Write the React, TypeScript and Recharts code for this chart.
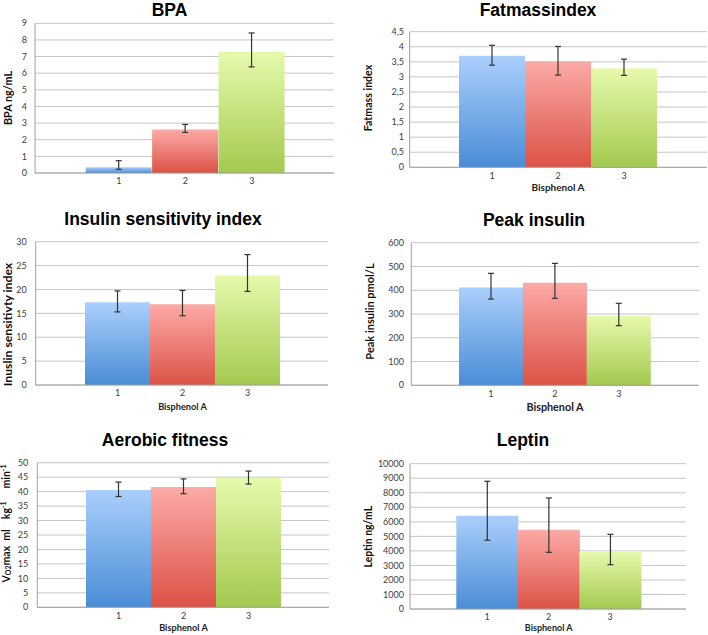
import React from 'react';
import { BarChart, Bar, XAxis, YAxis, CartesianGrid, Cell, ErrorBar } from 'recharts';

// ---------- data ----------
const categories = ['1', '2', '3'];

const bpaMean = [0.35, 2.62, 7.28];
const bpaLow = [0.22, 2.44, 6.38];
const bpaHigh = [0.74, 2.92, 8.42];
const bpaTicks = [0, 1, 2, 3, 4, 5, 6, 7, 8, 9];

const fatMean = [3.7, 3.51, 3.29];
const fatLow = [3.39, 3.06, 3.05];
const fatHigh = [4.05, 4.01, 3.59];
const fatTicks = [0, 0.5, 1, 1.5, 2, 2.5, 3, 3.5, 4, 4.5];

const isiMean = [17.3, 16.9, 22.95];
const isiLow = [15.3, 14.5, 19.6];
const isiHigh = [19.7, 19.8, 27.3];
const isiTicks = [0, 5, 10, 15, 20, 25, 30];

const peakMean = [412, 432, 293];
const peakLow = [363, 366, 251];
const peakHigh = [471, 513, 345];
const peakTicks = [0, 100, 200, 300, 400, 500, 600];

const vo2Mean = [40.6, 41.6, 44.7];
const vo2Low = [38.3, 39.3, 42.6];
const vo2High = [43.3, 44.4, 47.1];
const vo2Ticks = [0, 5, 10, 15, 20, 25, 30, 35, 40, 45, 50];

const leptinMean = [6420, 5460, 3950];
const leptinLow = [4730, 3900, 3050];
const leptinHigh = [8790, 7640, 5140];
const leptinTicks = [0, 1000, 2000, 3000, 4000, 5000, 6000, 7000, 8000, 9000, 10000];

const titles = ['BPA', 'Fatmassindex', 'Insulin sensitivity index', 'Peak insulin', 'Aerobic fitness', 'Leptin'];
const yLabels = ['BPA ng/mL', 'Fatmass index', 'Inuslin sensitivty index', 'Peak insulin pmol/L', '', 'Leptin ng/mL'];
const xTitle = 'Bisphenol A';

// ---------- layout ----------
type Cfg = {
  id: string;
  box: number[];
  plot: number[];
  bars: number[];
  gap: number;
  mean: number[];
  low: number[];
  high: number[];
  ticks: number[];
  comma?: boolean;
};

const panels: Cfg[] = [
  { id: 'p1', box: [0, 0, 354, 200], plot: [35, 23.3, 334, 173], bars: [85.7, 285], gap: 8, mean: bpaMean, low: bpaLow, high: bpaHigh, ticks: bpaTicks },
  { id: 'p2', box: [354, 0, 354, 200], plot: [409.7, 31.7, 707, 167.3], bars: [459, 657], gap: 5.7, mean: fatMean, low: fatLow, high: fatHigh, ticks: fatTicks, comma: true },
  { id: 'p3', box: [0, 200, 354, 210], plot: [35.7, 241.7, 328, 385], bars: [85, 280], gap: 9, mean: isiMean, low: isiLow, high: isiHigh, ticks: isiTicks },
  { id: 'p4', box: [354, 200, 354, 210], plot: [411.3, 242.7, 699, 385.3], bars: [459, 650.7], gap: 7.3, mean: peakMean, low: peakLow, high: peakHigh, ticks: peakTicks },
  { id: 'p5', box: [0, 410, 354, 225], plot: [37.3, 462.7, 329, 607.3], bars: [86, 281], gap: 9, mean: vo2Mean, low: vo2Low, high: vo2High, ticks: vo2Ticks },
  { id: 'p6', box: [354, 410, 354, 225], plot: [410, 463.7, 686, 609], bars: [456.3, 641], gap: 6, mean: leptinMean, low: leptinLow, high: leptinHigh, ticks: leptinTicks },
];

const titlePos = [[169.5, 15.5], [538, 15.5], [163, 225], [534, 225.7], [165, 445.7], [523, 446]];
const yLabelPos = [[7, 98], [368, 98], [7, 324.5], [369, 311.5], [6, 523.5], [367.5, 536.7]];
const yLabelSize = [10.8, 10.6, 12.2, 11, 10.5, 10.4];
const xTitlePos = [null, [558, 191], [182.5, 409.5], [555, 410.5], [183.5, 631], [548.7, 631]];
const xTitleSize = [0, 10, 9.2, 10.8, 9.2, 9];

const gradStops = [
  ['#aacffc', '#4a8dd6'],
  ['#fcaaa6', '#dc5246'],
  ['#e6faac', '#a3c94f'],
];

const tickFont = { fontSize: 9, fill: '#404040', fontFamily: 'Lato, "Open Sans", sans-serif' };

function Panel({ cfg }: { cfg: Cfg }) {
  const [px, py, pw, ph] = cfg.box;
  const [x0, y0, x1, y1] = cfg.plot;
  const [bl, br] = cfg.bars;
  const yw = 30;
  const xh = 24;
  const data = categories.map((c, i) => ({
    cat: c,
    v: cfg.mean[i],
    err: [cfg.mean[i] - cfg.low[i], cfg.high[i] - cfg.mean[i]],
  }));
  const margin = { top: y0 - py, left: x0 - px - yw, right: px + pw - x1, bottom: py + ph - y1 - xh };
  const max = cfg.ticks[cfg.ticks.length - 1];
  return (
    <div style={{ position: 'absolute', left: px, top: py, width: pw, height: ph }}>
      <BarChart width={pw} height={ph} data={data} margin={margin} barCategoryGap={0} barGap={0}>
        <defs>
          {gradStops.map((g, i) => (
            <linearGradient key={i} id={`${cfg.id}-g${i}`} x1="0" y1="0" x2="0" y2="1">
              <stop offset="0%" stopColor={g[0]} />
              <stop offset="100%" stopColor={g[1]} />
            </linearGradient>
          ))}
        </defs>
        <CartesianGrid vertical={false} stroke="#c6c6c6" strokeWidth={1} />
        <XAxis
          dataKey="cat"
          type="category"
          height={xh}
          padding={{ left: bl - x0, right: x1 - br }}
          axisLine={{ stroke: '#a0a0a0' }}
          tickLine={false}
          tickSize={5}
          tickMargin={0}
          tick={tickFont}
          interval={0}
        />
        <YAxis
          type="number"
          width={yw}
          domain={[0, max]}
          ticks={cfg.ticks}
          interval={0}
          allowDataOverflow
          axisLine={{ stroke: '#a0a0a0' }}
          tickLine={false}
          tickSize={cfg.gap}
          tickMargin={0}
          tick={tickFont}
          tickFormatter={(v: number) => (cfg.comma ? String(v).replace('.', ',') : String(v))}
        />
        <Bar dataKey="v" isAnimationActive={false}>
          {data.map((d, i) => (
            <Cell key={d.cat} fill={`url(#${cfg.id}-g${i})`} />
          ))}
          <ErrorBar dataKey="err" direction="y" width={3} stroke="#333" strokeWidth={1.2} />
        </Bar>
      </BarChart>
    </div>
  );
}

const labelFont = 'Lato, "Open Sans", sans-serif';

export default function App() {
  return (
    <div style={{ position: 'absolute', left: 0, top: 0, width: 708, height: 635, background: '#fff', overflow: 'hidden' }}>
      {panels.map((p) => (
        <Panel key={p.id} cfg={p} />
      ))}
      <svg width={708} height={635} style={{ position: 'absolute', left: 0, top: 0, pointerEvents: 'none' }}>
        {titles.map((t, i) => (
          <text
            key={t}
            x={titlePos[i][0]}
            y={titlePos[i][1]}
            textAnchor="middle"
            fontFamily='"Liberation Sans", Arial, sans-serif'
            fontWeight="bold"
            fontSize={17.5}
            fill="#000"
          >
            {t}
          </text>
        ))}
        {yLabels.map((t, i) =>
          t ? (
            <text
              key={`y${i}`}
              transform={`translate(${yLabelPos[i][0]},${yLabelPos[i][1]}) rotate(-90)`}
              textAnchor="middle"
              dominantBaseline="central"
              fontFamily={labelFont}
              fontWeight="bold"
              fontSize={yLabelSize[i]}
              fill="#111"
            >
              {t}
            </text>
          ) : null
        )}
        <text
          transform={`translate(${yLabelPos[4][0]},${yLabelPos[4][1]}) rotate(-90)`}
          textAnchor="middle"
          dominantBaseline="central"
          fontFamily={labelFont}
          fontWeight="bold"
          fontSize={yLabelSize[4]}
          fill="#111"
          style={{ whiteSpace: 'pre' }}
        >
          <tspan>V</tspan>
          <tspan fontSize={7} dy={2}>O2</tspan>
          <tspan dy={-2}>max  ml    kg</tspan>
          <tspan fontSize={7} dy={-3}>-1</tspan>
          <tspan dy={3}>     min</tspan>
          <tspan fontSize={7} dy={-3}>-1</tspan>
        </text>
        {xTitlePos.map((pos, i) =>
          pos ? (
            <text
              key={`x${i}`}
              x={pos[0]}
              y={pos[1]}
              textAnchor="middle"
              fontFamily={labelFont}
              fontWeight="bold"
              fontSize={xTitleSize[i]}
              fill="#222"
            >
              {xTitle}
            </text>
          ) : null
        )}
      </svg>
    </div>
  );
}
